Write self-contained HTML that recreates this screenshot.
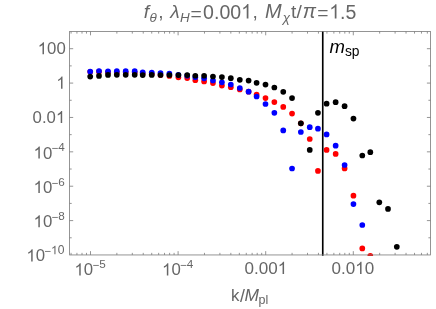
<!DOCTYPE html>
<html><head><meta charset="utf-8"><title>plot</title>
<style>
html,body{margin:0;padding:0;background:#fff;}
body{width:436px;height:309px;overflow:hidden;}
svg{display:block;}
text{font-family:"Liberation Sans",sans-serif;}
</style></head><body>
<svg style="will-change:transform" width="436" height="309" viewBox="0 0 436 309">
<rect x="0" y="0" width="436" height="309" fill="#fff"/>
<defs><clipPath id="c"><rect x="69.6" y="31.5" width="360.9" height="224.45"/></clipPath></defs>

<g clip-path="url(#c)">
<g fill="#ff0000">
<circle cx="90.20" cy="71.80" r="2.85"/>
<circle cx="99.00" cy="71.70" r="2.85"/>
<circle cx="108.00" cy="72.30" r="2.85"/>
<circle cx="116.80" cy="72.40" r="2.85"/>
<circle cx="125.70" cy="72.50" r="2.85"/>
<circle cx="134.70" cy="72.60" r="2.85"/>
<circle cx="142.70" cy="73.80" r="2.85"/>
<circle cx="151.75" cy="74.20" r="2.85"/>
<circle cx="160.50" cy="75.10" r="2.85"/>
<circle cx="169.40" cy="75.90" r="2.85"/>
<circle cx="178.40" cy="77.30" r="2.85"/>
<circle cx="187.20" cy="78.10" r="2.85"/>
<circle cx="195.30" cy="80.20" r="2.85"/>
<circle cx="204.10" cy="81.40" r="2.85"/>
<circle cx="212.95" cy="83.10" r="2.85"/>
<circle cx="221.90" cy="85.55" r="2.85"/>
<circle cx="230.80" cy="87.15" r="2.85"/>
<circle cx="239.80" cy="89.50" r="2.85"/>
<circle cx="248.60" cy="91.70" r="2.85"/>
<circle cx="256.60" cy="94.55" r="2.85"/>
<circle cx="265.50" cy="98.10" r="2.85"/>
<circle cx="274.35" cy="102.10" r="2.85"/>
<circle cx="283.25" cy="106.90" r="2.85"/>
<circle cx="292.05" cy="113.60" r="2.85"/>
<circle cx="300.85" cy="123.30" r="2.85"/>
<circle cx="309.75" cy="139.00" r="2.85"/>
<circle cx="317.95" cy="170.90" r="2.85"/>
<circle cx="326.60" cy="149.90" r="2.85"/>
<circle cx="335.65" cy="153.90" r="2.85"/>
<circle cx="344.60" cy="168.40" r="2.85"/>
<circle cx="353.45" cy="195.70" r="2.85"/>
<circle cx="362.30" cy="248.40" r="2.85"/>
<circle cx="370.30" cy="255.90" r="2.85"/>
</g>
<g fill="#0000ff">
<circle cx="90.20" cy="71.50" r="2.85"/>
<circle cx="99.00" cy="71.10" r="2.85"/>
<circle cx="108.00" cy="71.30" r="2.85"/>
<circle cx="116.80" cy="71.20" r="2.85"/>
<circle cx="125.70" cy="71.20" r="2.85"/>
<circle cx="134.70" cy="71.20" r="2.85"/>
<circle cx="142.70" cy="72.30" r="2.85"/>
<circle cx="151.75" cy="72.50" r="2.85"/>
<circle cx="160.50" cy="73.10" r="2.85"/>
<circle cx="169.40" cy="73.70" r="2.85"/>
<circle cx="178.40" cy="74.90" r="2.85"/>
<circle cx="187.20" cy="75.70" r="2.85"/>
<circle cx="195.30" cy="77.20" r="2.85"/>
<circle cx="204.10" cy="78.30" r="2.85"/>
<circle cx="212.95" cy="80.50" r="2.85"/>
<circle cx="221.90" cy="82.30" r="2.85"/>
<circle cx="230.80" cy="84.50" r="2.85"/>
<circle cx="239.80" cy="88.00" r="2.85"/>
<circle cx="248.60" cy="91.70" r="2.85"/>
<circle cx="256.60" cy="96.50" r="2.85"/>
<circle cx="265.50" cy="104.00" r="2.85"/>
<circle cx="274.35" cy="112.80" r="2.85"/>
<circle cx="283.25" cy="130.40" r="2.85"/>
<circle cx="292.05" cy="168.50" r="2.85"/>
<circle cx="300.85" cy="132.00" r="2.85"/>
<circle cx="309.75" cy="127.20" r="2.85"/>
<circle cx="317.95" cy="128.70" r="2.85"/>
<circle cx="326.60" cy="134.40" r="2.85"/>
<circle cx="335.65" cy="145.70" r="2.85"/>
<circle cx="344.60" cy="165.00" r="2.85"/>
<circle cx="353.45" cy="204.10" r="2.85"/>
<circle cx="362.30" cy="225.00" r="2.85"/>
</g>
<g fill="#000000">
<circle cx="90.20" cy="76.60" r="2.85"/>
<circle cx="99.00" cy="75.90" r="2.85"/>
<circle cx="108.00" cy="74.95" r="2.85"/>
<circle cx="116.80" cy="74.85" r="2.85"/>
<circle cx="125.70" cy="74.85" r="2.85"/>
<circle cx="134.70" cy="74.80" r="2.85"/>
<circle cx="142.70" cy="75.05" r="2.85"/>
<circle cx="151.75" cy="74.95" r="2.85"/>
<circle cx="160.50" cy="75.00" r="2.85"/>
<circle cx="169.40" cy="75.00" r="2.85"/>
<circle cx="178.40" cy="75.10" r="2.85"/>
<circle cx="187.20" cy="75.10" r="2.85"/>
<circle cx="195.30" cy="75.75" r="2.85"/>
<circle cx="204.10" cy="75.75" r="2.85"/>
<circle cx="212.95" cy="76.50" r="2.85"/>
<circle cx="221.90" cy="77.05" r="2.85"/>
<circle cx="230.80" cy="78.15" r="2.85"/>
<circle cx="239.80" cy="79.80" r="2.85"/>
<circle cx="248.60" cy="80.60" r="2.85"/>
<circle cx="256.60" cy="82.80" r="2.85"/>
<circle cx="265.50" cy="84.60" r="2.85"/>
<circle cx="274.35" cy="87.50" r="2.85"/>
<circle cx="283.25" cy="91.80" r="2.85"/>
<circle cx="292.05" cy="98.10" r="2.85"/>
<circle cx="300.85" cy="123.30" r="2.85"/>
<circle cx="309.75" cy="149.90" r="2.85"/>
<circle cx="317.95" cy="112.80" r="2.85"/>
<circle cx="326.60" cy="103.70" r="2.85"/>
<circle cx="335.65" cy="102.20" r="2.85"/>
<circle cx="344.60" cy="106.20" r="2.85"/>
<circle cx="353.45" cy="118.60" r="2.85"/>
<circle cx="362.30" cy="155.50" r="2.85"/>
<circle cx="370.30" cy="152.20" r="2.85"/>
<circle cx="379.30" cy="202.30" r="2.85"/>
<circle cx="388.00" cy="208.90" r="2.85"/>
<circle cx="396.80" cy="246.80" r="2.85"/>
</g>
</g>
<line x1="322.75" y1="31.0" x2="322.75" y2="255.75" stroke="#000" stroke-width="1.65"/>
<g stroke="#7a7a7a" stroke-width="0.8" fill="none">
<rect x="69.6" y="31.5" width="360.9" height="223.45"/>
<path d="M69.6 237.79h2.1M430.5 237.79h-2.1"/>
<path d="M69.6 220.60h3.6M430.5 220.60h-3.6"/>
<path d="M69.6 203.41h2.1M430.5 203.41h-2.1"/>
<path d="M69.6 186.22h3.6M430.5 186.22h-3.6"/>
<path d="M69.6 169.03h2.1M430.5 169.03h-2.1"/>
<path d="M69.6 151.84h3.6M430.5 151.84h-3.6"/>
<path d="M69.6 134.65h2.1M430.5 134.65h-2.1"/>
<path d="M69.6 117.46h3.6M430.5 117.46h-3.6"/>
<path d="M69.6 100.27h2.1M430.5 100.27h-2.1"/>
<path d="M69.6 83.08h3.6M430.5 83.08h-3.6"/>
<path d="M69.6 65.89h2.1M430.5 65.89h-2.1"/>
<path d="M69.6 48.70h3.6M430.5 48.70h-3.6"/>
<path d="M71.07 254.95v-2.1M71.07 31.5v2.1"/>
<path d="M76.93 254.95v-2.1M76.93 31.5v2.1"/>
<path d="M82.01 254.95v-2.1M82.01 31.5v2.1"/>
<path d="M86.49 254.95v-2.1M86.49 31.5v2.1"/>
<path d="M90.50 254.95v-3.8M90.50 31.5v3.8"/>
<path d="M116.87 254.95v-2.1M116.87 31.5v2.1"/>
<path d="M132.30 254.95v-2.1M132.30 31.5v2.1"/>
<path d="M143.24 254.95v-2.1M143.24 31.5v2.1"/>
<path d="M151.73 254.95v-2.1M151.73 31.5v2.1"/>
<path d="M158.67 254.95v-2.1M158.67 31.5v2.1"/>
<path d="M164.53 254.95v-2.1M164.53 31.5v2.1"/>
<path d="M169.61 254.95v-2.1M169.61 31.5v2.1"/>
<path d="M174.09 254.95v-2.1M174.09 31.5v2.1"/>
<path d="M178.10 254.95v-3.8M178.10 31.5v3.8"/>
<path d="M204.47 254.95v-2.1M204.47 31.5v2.1"/>
<path d="M219.90 254.95v-2.1M219.90 31.5v2.1"/>
<path d="M230.84 254.95v-2.1M230.84 31.5v2.1"/>
<path d="M239.33 254.95v-2.1M239.33 31.5v2.1"/>
<path d="M246.27 254.95v-2.1M246.27 31.5v2.1"/>
<path d="M252.13 254.95v-2.1M252.13 31.5v2.1"/>
<path d="M257.21 254.95v-2.1M257.21 31.5v2.1"/>
<path d="M261.69 254.95v-2.1M261.69 31.5v2.1"/>
<path d="M265.70 254.95v-3.8M265.70 31.5v3.8"/>
<path d="M292.07 254.95v-2.1M292.07 31.5v2.1"/>
<path d="M307.50 254.95v-2.1M307.50 31.5v2.1"/>
<path d="M318.44 254.95v-2.1M318.44 31.5v2.1"/>
<path d="M326.93 254.95v-2.1M326.93 31.5v2.1"/>
<path d="M333.87 254.95v-2.1M333.87 31.5v2.1"/>
<path d="M339.73 254.95v-2.1M339.73 31.5v2.1"/>
<path d="M344.81 254.95v-2.1M344.81 31.5v2.1"/>
<path d="M349.29 254.95v-2.1M349.29 31.5v2.1"/>
<path d="M353.30 254.95v-3.8M353.30 31.5v3.8"/>
<path d="M379.67 254.95v-2.1M379.67 31.5v2.1"/>
<path d="M395.10 254.95v-2.1M395.10 31.5v2.1"/>
<path d="M406.04 254.95v-2.1M406.04 31.5v2.1"/>
<path d="M414.53 254.95v-2.1M414.53 31.5v2.1"/>
<path d="M421.47 254.95v-2.1M421.47 31.5v2.1"/>
<path d="M427.33 254.95v-2.1M427.33 31.5v2.1"/>
</g>
<g>
<text x="143.74" y="18.30" font-size="19.2" fill="#666666" font-style="italic">f</text>
<text x="149.43" y="21.90" font-size="13.4" fill="#666666" font-style="italic">θ</text>
<text x="158.16" y="18.30" font-size="19.2" fill="#666666">,</text>
<text x="170.35" y="18.30" font-size="19.2" fill="#666666" font-style="italic">λ</text>
<text x="179.90" y="21.70" font-size="13.4" fill="#666666" font-style="italic">H</text>
<text x="190.38" y="19.50" font-size="19.2" fill="#666666">=</text>
<g transform="translate(0 18.60) scale(1 1.03)"><text x="203.09" y="0.00" font-size="19.55" fill="#666666">0.00</text><path fill="#666666" transform="translate(241.14 0.00) scale(0.00955 -0.00955)" d="M763 0H583V1147Q518 1085 412.5 1023T223 930V1104Q374 1175 487 1276T647 1472H763Z"/></g>
<text x="252.41" y="18.30" font-size="19.2" fill="#666666">,</text>
<text x="265.07" y="18.45" font-size="20.0" fill="#666666" font-style="italic">M</text>
<text x="282.65" y="22.00" font-size="13.4" fill="#666666" font-style="italic">χ</text>
<text x="290.95" y="18.30" font-size="19.2" fill="#666666">t</text>
<text x="296.57" y="18.30" font-size="19.2" fill="#666666">/</text>
<text x="302.71" y="18.30" font-size="19.8" fill="#666666" font-style="italic">π</text>
<text x="317.18" y="19.40" font-size="19.2" fill="#666666">=</text>
<g transform="translate(0 18.60) scale(1 1.03)"><path fill="#666666" transform="translate(329.21 0.00) scale(0.00952 -0.00952)" d="M763 0H583V1147Q518 1085 412.5 1023T223 930V1104Q374 1175 487 1276T647 1472H763Z"/><text x="340.06" y="0.00" font-size="19.5" fill="#666666">.5</text></g>
<path fill="#666666" transform="translate(37.72 54.30) scale(0.00820 -0.00820)" d="M763 0H583V1147Q518 1085 412.5 1023T223 930V1104Q374 1175 487 1276T647 1472H763Z"/><text x="47.07" y="54.30" font-size="16.8" fill="#666666">00</text>
<path fill="#666666" transform="translate(56.25 88.68) scale(0.00820 -0.00820)" d="M763 0H583V1147Q518 1085 412.5 1023T223 930V1104Q374 1175 487 1276T647 1472H763Z"/>
<text x="32.58" y="123.06" font-size="16.8" fill="#666666">0.0</text><path fill="#666666" transform="translate(55.93 123.06) scale(0.00820 -0.00820)" d="M763 0H583V1147Q518 1085 412.5 1023T223 930V1104Q374 1175 487 1276T647 1472H763Z"/>
<path fill="#666666" transform="translate(33.56 158.54) scale(0.00820 -0.00820)" d="M763 0H583V1147Q518 1085 412.5 1023T223 930V1104Q374 1175 487 1276T647 1472H763Z"/><text x="42.91" y="158.54" font-size="16.8" fill="#666666">0</text>
<text x="51.76" y="152.14" font-size="11.6" fill="#666666">−</text>
<text x="58.36" y="151.49" font-size="11.7" fill="#666666">4</text>
<path fill="#666666" transform="translate(33.56 192.92) scale(0.00820 -0.00820)" d="M763 0H583V1147Q518 1085 412.5 1023T223 930V1104Q374 1175 487 1276T647 1472H763Z"/><text x="42.91" y="192.92" font-size="16.8" fill="#666666">0</text>
<text x="51.76" y="186.52" font-size="11.6" fill="#666666">−</text>
<text x="58.24" y="185.87" font-size="11.7" fill="#666666">6</text>
<path fill="#666666" transform="translate(33.56 227.30) scale(0.00820 -0.00820)" d="M763 0H583V1147Q518 1085 412.5 1023T223 930V1104Q374 1175 487 1276T647 1472H763Z"/><text x="42.91" y="227.30" font-size="16.8" fill="#666666">0</text>
<text x="51.76" y="220.90" font-size="11.6" fill="#666666">−</text>
<text x="58.30" y="220.25" font-size="11.7" fill="#666666">8</text>
<path fill="#666666" transform="translate(26.41 261.38) scale(0.00820 -0.00820)" d="M763 0H583V1147Q518 1085 412.5 1023T223 930V1104Q374 1175 487 1276T647 1472H763Z"/><text x="35.76" y="261.38" font-size="16.8" fill="#666666">0</text>
<text x="44.61" y="254.98" font-size="11.6" fill="#666666">−</text>
<path fill="#666666" transform="translate(50.96 254.33) scale(0.00591 -0.00591)" d="M763 0H583V1147Q518 1085 412.5 1023T223 930V1104Q374 1175 487 1276T647 1472H763Z"/><text x="57.69" y="254.33" font-size="12.1" fill="#666666">0</text>
<path fill="#666666" transform="translate(74.46 275.40) scale(0.00820 -0.00820)" d="M763 0H583V1147Q518 1085 412.5 1023T223 930V1104Q374 1175 487 1276T647 1472H763Z"/><text x="83.81" y="275.40" font-size="16.8" fill="#666666">0</text>
<text x="92.66" y="269.00" font-size="11.6" fill="#666666">−</text>
<text x="99.20" y="268.35" font-size="11.7" fill="#666666">5</text>
<path fill="#666666" transform="translate(162.06 275.40) scale(0.00820 -0.00820)" d="M763 0H583V1147Q518 1085 412.5 1023T223 930V1104Q374 1175 487 1276T647 1472H763Z"/><text x="171.41" y="275.40" font-size="16.8" fill="#666666">0</text>
<text x="180.26" y="269.00" font-size="11.6" fill="#666666">−</text>
<text x="186.86" y="268.35" font-size="11.7" fill="#666666">4</text>
<text x="244.54" y="274.05" font-size="17.05" fill="#666666">0.00</text><path fill="#666666" transform="translate(277.72 274.05) scale(0.00833 -0.00833)" d="M763 0H583V1147Q518 1085 412.5 1023T223 930V1104Q374 1175 487 1276T647 1472H763Z"/>
<text x="331.49" y="274.05" font-size="17.05" fill="#666666">0.0</text><path fill="#666666" transform="translate(355.19 274.05) scale(0.00833 -0.00833)" d="M763 0H583V1147Q518 1085 412.5 1023T223 930V1104Q374 1175 487 1276T647 1472H763Z"/><text x="364.67" y="274.05" font-size="17.05" fill="#666666">0</text>
<text x="230.88" y="300.90" font-size="16.8" fill="#666666">k</text>
<text x="240.00" y="301.70" font-size="17.8" fill="#666666">/</text>
<text x="244.40" y="300.95" font-size="17.4" fill="#666666" font-style="italic">M</text>
<text x="258.62" y="303.90" font-size="12.5" fill="#666666">pl</text>
<text x="329.62" y="52.70" font-size="18.5" fill="#000" font-style="italic">m</text>
<text x="344.93" y="56.30" font-size="13.8" fill="#000">sp</text>
</g>
</svg></body></html>
